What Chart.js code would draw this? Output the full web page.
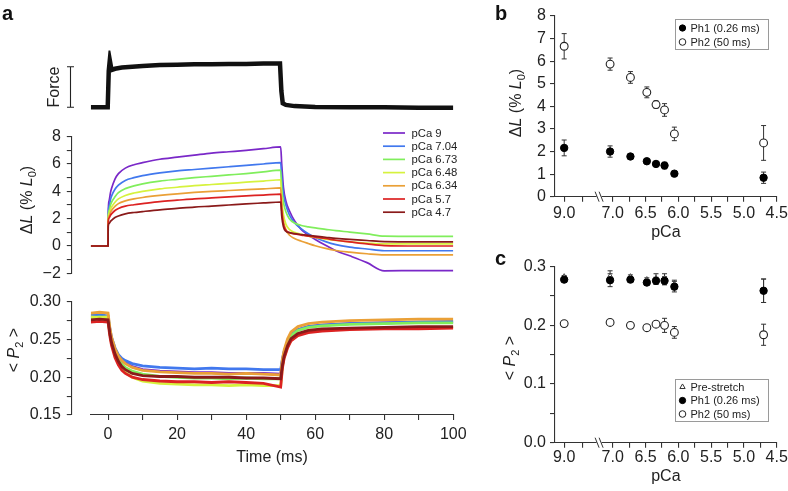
<!DOCTYPE html>
<html>
<head>
<meta charset="utf-8">
<script src="https://cdn.jsdelivr.net/npm/chart.js@4.4.1/dist/chart.umd.min.js"></script>
<style>
  html, body { margin: 0; padding: 0; background: #fff; }
  #wrap { position: relative; width: 788px; height: 491px; overflow: hidden; }
  #wrap canvas { position: absolute; left: 0; top: 0; }
</style>
</head>
<body>
<div id="wrap">
  <canvas id="force" width="788" height="491"></canvas>
  <canvas id="dl" width="788" height="491"></canvas>
  <canvas id="p2" width="788" height="491"></canvas>
  <canvas id="pb" width="788" height="491"></canvas>
  <canvas id="pc" width="788" height="491"></canvas>
</div>
<script>
// ---- panel a: force trace ----
const forceTime = [-5, -0.1, 0.2, 0.5, 1, 2, 4, 7, 10, 15, 20, 25, 30, 35, 40, 45, 49.8, 50.2, 50.6, 51.5, 54, 60, 70, 80, 90, 100];
const forceVal = [0, 0, 0.9, 1.16, 0.92, 0.95, 0.98, 1.0, 1.02, 1.04, 1.05, 1.06, 1.06, 1.07, 1.07, 1.08, 1.08, 0.4, 0.1, 0.06, 0.03, 0.01, 0.0, 0.0, -0.01, -0.01];

// ---- panel a: length change (% L0) ----
const timeMs = [-5, 0, 0.05, 0.3, 0.7, 1, 2, 3, 5, 7.5, 10, 15, 20, 25, 30, 35, 40, 45, 50, 50.3, 50.8, 51.5, 52.5, 54, 56, 58, 60, 63, 66, 70, 75, 80, 90, 100];
const dL_pCa9 = [0, 0, 2.4, 3.3, 3.9, 4.2, 4.9, 5.3, 5.7, 5.95, 6.1, 6.35, 6.5, 6.65, 6.8, 6.9, 7.0, 7.12, 7.25, 6.0, 4.3, 3.3, 2.6, 1.85, 1.2, 0.8, 0.48, 0.05, -0.35, -0.72, -1.22, -1.82, -1.8, -1.8];
const dL_pCa704 = [0, 0, 2.2, 2.9, 3.4, 3.65, 4.15, 4.45, 4.8, 5.0, 5.15, 5.35, 5.5, 5.6, 5.7, 5.8, 5.9, 6.0, 6.1, 5.0, 3.8, 3.0, 2.3, 1.7, 1.25, 0.9, 0.62, 0.32, 0.1, -0.08, -0.22, -0.35, -0.35, -0.35];
const dL_pCa673 = [0, 0, 2.1, 2.6, 3.0, 3.2, 3.6, 3.9, 4.2, 4.4, 4.55, 4.75, 4.88, 5.0, 5.1, 5.2, 5.3, 5.42, 5.55, 4.2, 3.2, 2.5, 2.0, 1.68, 1.5, 1.4, 1.32, 1.22, 1.12, 1.02, 0.88, 0.72, 0.7, 0.7];
const dL_pCa648 = [0, 0, 2.0, 2.4, 2.7, 2.85, 3.2, 3.45, 3.7, 3.88, 4.0, 4.18, 4.3, 4.42, 4.5, 4.58, 4.67, 4.75, 4.85, 3.4, 2.3, 1.6, 1.22, 1.0, 0.85, 0.72, 0.62, 0.5, 0.4, 0.3, 0.22, 0.15, 0.15, 0.15];
const dL_pCa634 = [0, 0, 1.9, 2.2, 2.45, 2.6, 2.9, 3.1, 3.3, 3.45, 3.55, 3.7, 3.82, 3.92, 4.0, 4.06, 4.12, 4.18, 4.25, 2.9, 1.8, 1.2, 0.8, 0.55, 0.35, 0.18, 0.02, -0.18, -0.33, -0.45, -0.57, -0.65, -0.65, -0.65];
const dL_pCa57 = [0, 0, 1.8, 2.05, 2.25, 2.35, 2.6, 2.75, 2.92, 3.02, 3.1, 3.25, 3.35, 3.45, 3.52, 3.6, 3.67, 3.73, 3.8, 2.6, 1.6, 1.15, 0.98, 0.88, 0.8, 0.72, 0.65, 0.55, 0.42, 0.3, 0.15, 0.03, 0.0, 0.0];
const dL_pCa47 = [0, 0, 1.45, 1.65, 1.8, 1.88, 2.08, 2.2, 2.35, 2.45, 2.52, 2.65, 2.75, 2.85, 2.92, 3.0, 3.08, 3.15, 3.22, 2.2, 1.4, 1.08, 0.98, 0.9, 0.84, 0.78, 0.72, 0.64, 0.56, 0.48, 0.4, 0.32, 0.3, 0.3];

// ---- panel a: <P2> ----
const p2Time = [-5, -2.5, 0, 0.5, 1, 2, 3, 4, 5, 7, 10, 15, 20, 25, 30, 35, 40, 45, 50, 50.5, 51, 52, 53, 55, 58, 62, 70, 80, 90, 100];
const p2_pCa9 = [0.280, 0.281, 0.279, 0.262, 0.250, 0.236, 0.227, 0.222, 0.219, 0.214, 0.210, 0.208, 0.207, 0.206, 0.206, 0.205, 0.205, 0.205, 0.204, 0.222, 0.233, 0.247, 0.256, 0.263, 0.267, 0.269, 0.271, 0.272, 0.273, 0.273];
const p2_pCa704 = [0.282, 0.283, 0.281, 0.265, 0.253, 0.239, 0.230, 0.225, 0.222, 0.218, 0.215, 0.213, 0.212, 0.211, 0.212, 0.211, 0.211, 0.210, 0.210, 0.224, 0.234, 0.248, 0.256, 0.263, 0.267, 0.269, 0.271, 0.272, 0.273, 0.274];
const p2_pCa673 = [0.279, 0.280, 0.279, 0.261, 0.248, 0.233, 0.223, 0.217, 0.213, 0.208, 0.204, 0.201, 0.200, 0.199, 0.199, 0.198, 0.199, 0.198, 0.198, 0.220, 0.232, 0.246, 0.255, 0.262, 0.266, 0.268, 0.270, 0.271, 0.272, 0.272];
const p2_pCa648 = [0.280, 0.279, 0.280, 0.259, 0.245, 0.229, 0.218, 0.211, 0.206, 0.200, 0.195, 0.192, 0.191, 0.190, 0.190, 0.189, 0.190, 0.189, 0.189, 0.214, 0.226, 0.240, 0.249, 0.256, 0.260, 0.262, 0.264, 0.265, 0.266, 0.266];
const p2_pCa634 = [0.285, 0.286, 0.285, 0.266, 0.253, 0.238, 0.228, 0.222, 0.218, 0.213, 0.209, 0.207, 0.206, 0.205, 0.205, 0.204, 0.205, 0.204, 0.203, 0.224, 0.236, 0.251, 0.260, 0.267, 0.271, 0.273, 0.275, 0.276, 0.277, 0.277];
const p2_pCa57 = [0.273, 0.274, 0.273, 0.255, 0.242, 0.226, 0.216, 0.209, 0.205, 0.200, 0.197, 0.195, 0.194, 0.194, 0.193, 0.194, 0.193, 0.192, 0.187, 0.212, 0.225, 0.239, 0.248, 0.255, 0.259, 0.261, 0.263, 0.264, 0.264, 0.265];
const p2_pCa47 = [0.276, 0.277, 0.276, 0.259, 0.246, 0.231, 0.221, 0.214, 0.210, 0.205, 0.202, 0.201, 0.201, 0.200, 0.200, 0.200, 0.199, 0.199, 0.198, 0.216, 0.228, 0.242, 0.251, 0.258, 0.262, 0.264, 0.265, 0.266, 0.267, 0.267];

const traceNames = ['pCa 9', 'pCa 7.04', 'pCa 6.73', 'pCa 6.48', 'pCa 6.34', 'pCa 5.7', 'pCa 4.7'];

// ---- panels b and c ----
const pCaB = [9.0, 7.04, 6.73, 6.48, 6.34, 6.21, 6.06, 4.7];
const ph1DL = [2.16, 2.0, 1.78, 1.57, 1.45, 1.38, 1.02, 0.84];
const ph1DLErr = [0.35, 0.25, 0.08, 0.07, 0.08, 0.15, 0.06, 0.25];
const ph2DL = [6.66, 5.87, 5.28, 4.62, 4.08, 3.84, 2.78, 2.38];
const ph2DLErr = [0.56, 0.27, 0.26, 0.24, 0.16, 0.28, 0.3, 0.77];

const preP2 = [0.282, 0.283, 0.282, 0.277, 0.279, 0.279, 0.269, 0.259];
const preP2Err = [0.003, 0.01, 0.004, 0.004, 0.009, 0.009, 0.008, 0.02];
const ph1P2 = [0.278, 0.277, 0.278, 0.273, 0.276, 0.276, 0.266, 0.259];
const ph1P2Err = [0.003, 0.011, 0.004, 0.004, 0.006, 0.007, 0.009, 0.02];
const ph2P2 = [0.203, 0.205, 0.200, 0.196, 0.202, 0.200, 0.188, 0.184];
const ph2P2Err = [0.003, 0.004, 0.004, 0.005, 0.003, 0.012, 0.01, 0.018];

// ---- ticks ----
const timeTicks = [0, 10, 20, 30, 40, 50, 60, 70, 80, 90, 100];
const timeTickLabels = ['0', '', '20', '', '40', '', '60', '', '80', '', '100'];
const dLTicks = [-2, -1, 0, 1, 2, 3, 4, 5, 6, 7, 8];
const dLTickLabels = ['\u22122', '', '0', '', '2', '', '4', '', '6', '', '8'];
const p2Ticks = [0.15, 0.175, 0.2, 0.225, 0.25, 0.275, 0.3];
const p2TickLabels = ['0.15', '', '0.20', '', '0.25', '', '0.30'];
const pCaTicks = [9.0, 8.5, 7.0, 6.75, 6.5, 6.25, 6.0, 5.75, 5.5, 5.25, 5.0, 4.75, 4.5];
const pCaTickLabels = ['9.0', '', '7.0', '', '6.5', '', '6.0', '', '5.5', '', '5.0', '', '4.5'];
const dLbTicks = [0, 1, 2, 3, 4, 5, 6, 7, 8];
const dLbTickLabels = ['0', '1', '2', '3', '4', '5', '6', '7', '8'];
const p2cTicks = [0, 0.05, 0.1, 0.15, 0.2, 0.25, 0.3];
const p2cTickLabels = ['0.0', '', '0.1', '', '0.2', '', '0.3'];

const traceColors = ['#7a28c8', '#4178ee', '#80ee5c', '#d6f23e', '#eaa037', '#dc2222', '#8a1a1a'];

const FONT = '"Liberation Sans", Arial, Helvetica, sans-serif';
const FS = 16;
Chart.defaults.font.family = FONT;
Chart.defaults.color = '#222';
Chart.defaults.animation = false;
Chart.defaults.responsive = false;
Chart.defaults.devicePixelRatio = 1;
Chart.defaults.plugins.legend.display = false;
Chart.defaults.plugins.tooltip.enabled = false;

const AXIS = '#333';
const tickFont = { size: FS, lineHeight: 1 };

// pCa 9 sits left of the axis break, the rest is on a linear pCa scale
const BREAK_AT = 7.2;
const axisPos = p => (p > 7.5 ? 7.74 - (9 - p) * 0.56 : p);

const xy = (xs, ys) => xs.map((x, i) => ({ x: x, y: ys[i] }));
const fixW = w => s => { s.width = w; s.paddingTop = 0; s.paddingBottom = 0; };
const fixH = h => s => { s.height = h; s.paddingLeft = 0; s.paddingRight = 0; };
const setTicks = (vals, map) => s => { s.ticks = vals.map(v => ({ value: map ? map(v) : v })); };

function axis(vals, labels, extra) {
  return Object.assign({
    type: 'linear',
    border: { color: AXIS, width: 1.1 },
    grid: { drawOnChartArea: false, color: AXIS, lineWidth: 1.1, tickLength: 5 },
    afterBuildTicks: setTicks(vals, extra && extra.map),
    ticks: { font: tickFont, color: '#222', padding: extra && extra.pad != null ? extra.pad : 4,
             autoSkip: false, maxRotation: 0, callback: (v, i) => labels[i] }
  }, extra && extra.opts);
}

function richText(ctx, parts, x, y, size, rotate) {
  const fnt = p => (p.i ? 'italic ' : '') + (p.sub ? Math.round(size * 0.68) : size) + 'px ' + FONT;
  ctx.save();
  ctx.translate(x, y);
  if (rotate) ctx.rotate(-Math.PI / 2);
  let w = 0;
  parts.forEach(p => { ctx.font = fnt(p); w += ctx.measureText(p.t).width; });
  let cx = -w / 2;
  ctx.fillStyle = '#222';
  ctx.textBaseline = 'middle';
  parts.forEach(p => {
    ctx.font = fnt(p);
    ctx.fillText(p.t, cx, p.sub ? size * 0.3 : 0);
    cx += ctx.measureText(p.t).width;
  });
  ctx.restore();
}
const dLTitle = [{ t: '\u0394' }, { t: 'L', i: 1 }, { t: ' (% ' }, { t: 'L', i: 1 }, { t: '0', sub: 1 }, { t: ')' }];
const p2Title = [{ t: '< ' }, { t: 'P', i: 1 }, { t: '2', sub: 1 }, { t: ' >' }];

function letter(ctx, s, x, y) {
  ctx.save();
  ctx.font = 'bold 20px ' + FONT;
  ctx.fillStyle = '#111';
  ctx.fillText(s, x, y);
  ctx.restore();
}

// left axes of panel a stand off from the traces
const axisGap = {
  id: 'axisGap',
  afterLayout(chart, args, opts) {
    const s = chart.scales.y;
    s.left -= opts.px; s.right -= opts.px;
  }
};

const errorBars = {
  id: 'errorBars',
  beforeDatasetsDraw(chart) {
    const { ctx, scales: { x, y } } = chart;
    ctx.save();
    ctx.strokeStyle = '#333';
    ctx.lineWidth = 1;
    chart.data.datasets.forEach(ds => {
      if (!ds.errorBars) return;
      ds.data.forEach((pt, i) => {
        const e = ds.errorBars[i];
        const px = x.getPixelForValue(pt.x);
        const top = y.getPixelForValue(pt.y + e), bot = y.getPixelForValue(pt.y - e);
        ctx.beginPath();
        ctx.moveTo(px, top); ctx.lineTo(px, bot);
        ctx.moveTo(px - 2.5, top); ctx.lineTo(px + 2.5, top);
        ctx.moveTo(px - 2.5, bot); ctx.lineTo(px + 2.5, bot);
        ctx.stroke();
      });
    });
    ctx.restore();
  }
};

const axisBreak = {
  id: 'axisBreak',
  afterDraw(chart) {
    const { ctx, chartArea, scales: { x } } = chart;
    const bx = x.getPixelForValue(BREAK_AT), by = chartArea.bottom;
    ctx.save();
    ctx.fillStyle = '#fff';
    ctx.fillRect(bx - 3, by - 2, 5, 4);
    ctx.strokeStyle = '#333';
    ctx.lineWidth = 1;
    ctx.beginPath();
    [-2.5, 1.5].forEach(d => { ctx.moveTo(bx + d - 2, by - 5); ctx.lineTo(bx + d + 2, by + 5); });
    ctx.stroke();
    ctx.restore();
  }
};

function pointLegend(chart, box) {
  const ctx = chart.ctx;
  ctx.save();
  ctx.strokeStyle = '#9a9a9a';
  ctx.lineWidth = 1;
  ctx.strokeRect(box.x, box.y, box.w, box.h);
  ctx.font = '11px ' + FONT;
  ctx.textBaseline = 'middle';
  box.order.forEach((k, i) => {
    const ds = chart.data.datasets[k];
    const cy = box.y + box.first + i * box.step;
    ctx.fillStyle = ds.backgroundColor;
    ctx.strokeStyle = ds.borderColor;
    ctx.lineWidth = 1;
    Chart.helpers.drawPoint(ctx, { pointStyle: ds.pointStyle, radius: ds.pointRadius * 0.85, borderWidth: 1, rotation: 0 }, box.x + 7, cy);
    ctx.fillStyle = '#222';
    ctx.fillText(ds.label, box.x + 15, cy + 0.5);
  });
  ctx.restore();
}

// ---------- force ----------
new Chart(document.getElementById('force'), {
  type: 'line',
  data: { datasets: [{ data: xy(forceTime, forceVal), borderColor: '#111', borderWidth: 4.5, pointRadius: 0, tension: 0 }] },
  options: {
    layout: { padding: { left: 90.8, right: 334.7, top: 50.5, bottom: 371.5 } },
    scales: { x: { type: 'linear', min: -5, max: 100, display: false }, y: { min: -0.3, max: 1.4, display: false } }
  },
  plugins: [{
    id: 'forceBar',
    afterDraw(chart) {
      const { ctx, scales: { y } } = chart;
      const y0 = y.getPixelForValue(0), y1 = y.getPixelForValue(1);
      ctx.save();
      ctx.strokeStyle = '#222';
      ctx.lineWidth = 1.1;
      ctx.beginPath();
      ctx.moveTo(70.5, y0); ctx.lineTo(70.5, y1);
      ctx.moveTo(67, y0); ctx.lineTo(74, y0);
      ctx.moveTo(67, y1); ctx.lineTo(74, y1);
      ctx.stroke();
      ctx.restore();
      richText(ctx, [{ t: 'Force' }], 55, (y0 + y1) / 2, FS, true);
      letter(ctx, 'a', 2, 20);
    }
  }]
});

// ---------- length change ----------
const dLSeries = [dL_pCa9, dL_pCa704, dL_pCa673, dL_pCa648, dL_pCa634, dL_pCa57, dL_pCa47];
new Chart(document.getElementById('dl'), {
  type: 'line',
  data: {
    datasets: dLSeries.map((s, k) => ({
      label: traceNames[k], data: xy(timeMs, s), borderColor: traceColors[k], borderWidth: 1.7,
      pointRadius: 0, cubicInterpolationMode: 'monotone', order: 7 - k
    }))
  },
  options: {
    layout: { padding: { left: 40.8, right: 334.7, top: 136.7, bottom: 217.7 } },
    plugins: { axisGap: { px: 19 } },
    scales: {
      x: { type: 'linear', min: -5, max: 100, display: false },
      y: axis(dLTicks, dLTickLabels, { pad: 6, opts: { min: -2, max: 8, afterFit: fixW(50) } })
    }
  },
  plugins: [axisGap, {
    id: 'dlDecor',
    afterDraw(chart) {
      const ctx = chart.ctx;
      richText(ctx, dLTitle, 28, 200, FS, true);
      ctx.save();
      ctx.font = '11.3px ' + FONT;
      ctx.textBaseline = 'middle';
      chart.data.datasets.forEach((ds, k) => {
        const cy = 133 + k * 13.2;
        ctx.strokeStyle = ds.borderColor;
        ctx.lineWidth = 1.7;
        ctx.beginPath(); ctx.moveTo(383, cy); ctx.lineTo(405, cy); ctx.stroke();
        ctx.fillStyle = '#222';
        ctx.fillText(ds.label, 411.5, cy + 0.5);
      });
      ctx.restore();
    }
  }]
});

// ---------- <P2> traces ----------
const p2Series = [p2_pCa9, p2_pCa704, p2_pCa673, p2_pCa648, p2_pCa634, p2_pCa57, p2_pCa47];
new Chart(document.getElementById('p2'), {
  type: 'line',
  data: {
    datasets: p2Series.map((s, k) => ({
      label: traceNames[k], data: xy(p2Time, s), borderColor: traceColors[k], borderWidth: 2.8,
      pointRadius: 0, tension: 0, order: 7 - k
    }))
  },
  options: {
    layout: { padding: { left: 40.8, right: 334.7, top: 301.7, bottom: 20 } },
    plugins: { axisGap: { px: 19 } },
    scales: {
      x: axis(timeTicks, timeTickLabels, { pad: 7, opts: {
        min: -5, max: 100, afterFit: fixH(56),
        title: { display: true, text: 'Time (ms)', font: { size: FS }, color: '#222', padding: { top: 0, bottom: 4 } }
      } }),
      y: axis(p2Ticks, p2TickLabels, { pad: 6, opts: { min: 0.15, max: 0.30, afterFit: fixW(50) } })
    }
  },
  plugins: [axisGap, {
    id: 'p2Decor',
    afterDraw(chart) { richText(chart.ctx, p2Title, 15, 350, FS, true); }
  }]
});

// ---------- panel b ----------
const pCaAxis = (extra) => axis(pCaTicks, pCaTickLabels, Object.assign({ map: axisPos }, extra));
new Chart(document.getElementById('pb'), {
  type: 'scatter',
  data: {
    datasets: [
      { label: 'Ph1 (0.26 ms)', data: xy(pCaB.map(axisPos), ph1DL), errorBars: ph1DLErr,
        pointStyle: 'circle', pointRadius: 3.7, backgroundColor: '#000', borderColor: '#000', borderWidth: 1, order: 2 },
      { label: 'Ph2 (50 ms)', data: xy(pCaB.map(axisPos), ph2DL), errorBars: ph2DLErr,
        pointStyle: 'circle', pointRadius: 3.9, backgroundColor: '#fff', borderColor: '#222', borderWidth: 1.1, order: 1 }
    ]
  },
  options: {
    layout: { padding: { left: 515, right: 11.3, top: 16, bottom: 244.7 } },
    scales: {
      x: pCaAxis({ pad: 3.5, opts: {
        reverse: true, min: 4.5, max: 7.88, afterFit: fixH(49.6),
        title: { display: true, text: 'pCa', font: { size: FS }, color: '#222', padding: { top: 0, bottom: 4 } }
      } }),
      y: axis(dLbTicks, dLbTickLabels, { pad: 4, opts: { min: 0, max: 8, afterFit: fixW(40) } })
    }
  },
  plugins: [errorBars, axisBreak, {
    id: 'bDecor',
    afterDraw(chart) {
      richText(chart.ctx, dLTitle, 517, 103, FS, true);
      letter(chart.ctx, 'b', 495, 20);
      pointLegend(chart, { x: 675.5, y: 19.5, w: 93, h: 30, first: 8.5, step: 14, order: [0, 1] });
    }
  }]
});

// ---------- panel c ----------
new Chart(document.getElementById('pc'), {
  type: 'scatter',
  data: {
    datasets: [
      { label: 'Pre-stretch', data: xy(pCaB.map(axisPos), preP2), errorBars: preP2Err,
        pointStyle: 'triangle', pointRadius: 3.6, backgroundColor: '#fff', borderColor: '#333', borderWidth: 0.9, order: 3 },
      { label: 'Ph1 (0.26 ms)', data: xy(pCaB.map(axisPos), ph1P2), errorBars: ph1P2Err,
        pointStyle: 'circle', pointRadius: 3.7, backgroundColor: '#000', borderColor: '#000', borderWidth: 1, order: 2 },
      { label: 'Ph2 (50 ms)', data: xy(pCaB.map(axisPos), ph2P2), errorBars: ph2P2Err,
        pointStyle: 'circle', pointRadius: 3.9, backgroundColor: '#fff', borderColor: '#222', borderWidth: 1.1, order: 1 }
    ]
  },
  options: {
    layout: { padding: { left: 515, right: 11.3, top: 266.7, bottom: 0.7 } },
    scales: {
      x: pCaAxis({ pad: 2, opts: {
        reverse: true, min: 4.5, max: 7.88, afterFit: fixH(47.6),
        title: { display: true, text: 'pCa', font: { size: FS }, color: '#222', padding: { top: 0, bottom: 4 } }
      } }),
      y: axis(p2cTicks, p2cTickLabels, { pad: 4, opts: { min: 0, max: 0.3, afterFit: fixW(40) } })
    }
  },
  plugins: [errorBars, axisBreak, {
    id: 'cDecor',
    afterDraw(chart) {
      richText(chart.ctx, p2Title, 511, 358, FS, true);
      letter(chart.ctx, 'c', 495, 265);
      pointLegend(chart, { x: 675.5, y: 379.5, w: 93, h: 42, first: 7.5, step: 13.5, order: [0, 1, 2] });
    }
  }]
});
</script>
</body>
</html>
